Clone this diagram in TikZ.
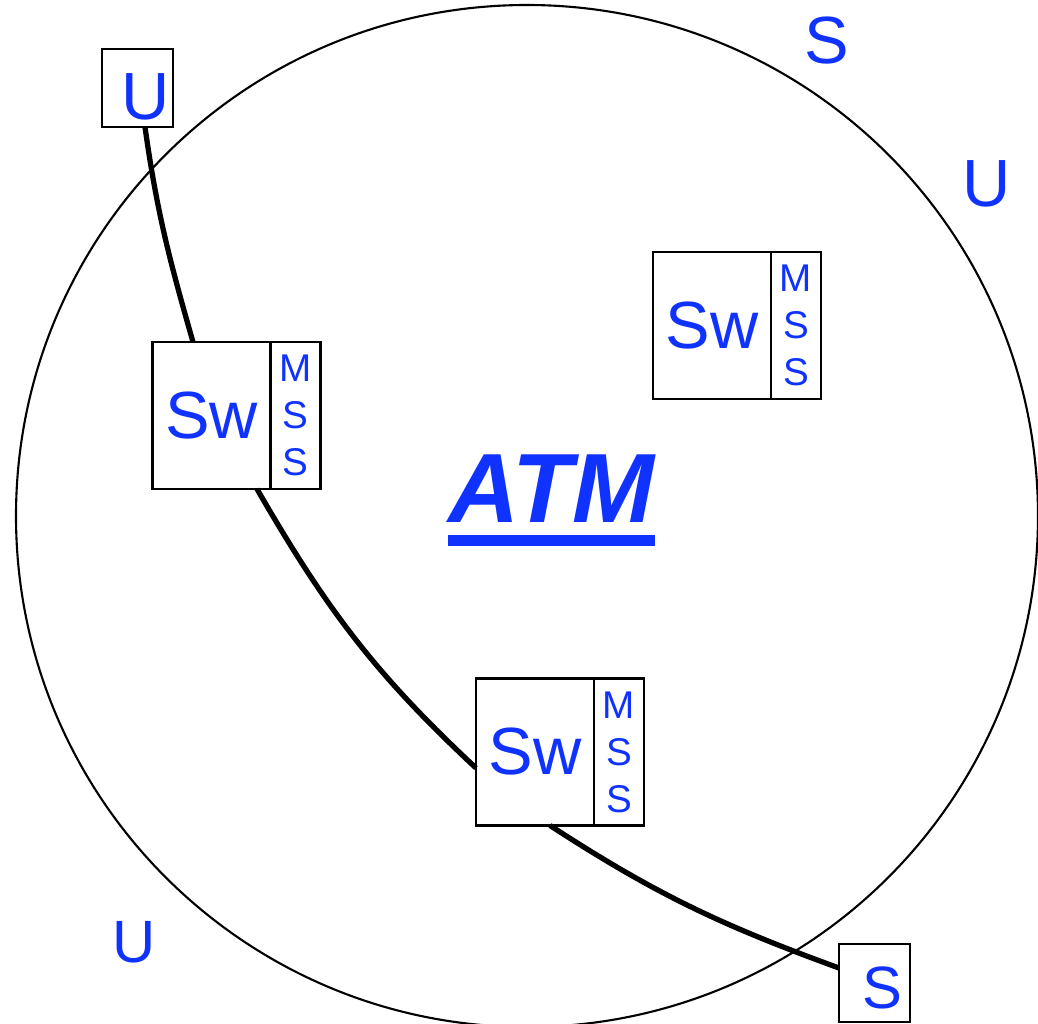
\documentclass[tikz,border=0pt]{standalone}
\usepackage{fontspec}
\setmainfont{Liberation Sans}
\usetikzlibrary{positioning}
\definecolor{bleu}{RGB}{15,50,255}

\begin{document}
\begin{tikzpicture}[
  boite/.style={draw, semithick, inner sep=0pt, outer sep=0pt, minimum width=1.18cm, minimum height=1.47cm, text=bleu, font=\fontsize{19}{22}\selectfont},
  pile/.style={draw, semithick, inner sep=0pt, outer sep=0pt, minimum width=0.5cm, minimum height=1.47cm, align=center, text=bleu, font=\fontsize{11}{13.4}\selectfont},
  term/.style={draw, semithick, inner sep=0pt, outer sep=0pt, minimum width=0.71cm, minimum height=0.78cm},
  lettre/.style={text=bleu, inner sep=0pt, font=\fontsize{19}{22}\selectfont},
  lien/.style={line width=1.5pt}
]

% Cadre
\useasboundingbox (0,0) rectangle (10.38,10.24);

% Cercle
\draw[semithick] (5.27,5.08) circle (5.11);

% Commutateurs
\node[boite] (sw1) at (2.115,6.085) {Sw};
\node[pile, right=0pt of sw1] (ms1) {M\\S\\S};
\node[boite] (sw2) at (7.12,6.985) {Sw};
\node[pile, right=0pt of sw2] (ms2) {M\\S\\S};
\node[boite] (sw3) at (5.35,2.72) {Sw};
\node[pile, right=0pt of sw3] (ms3) {M\\S\\S};

% Extremites
\node[term] (u) at (1.375,9.36) {};
\node[lettre] (lu) at ([xshift=0.085cm,yshift=-0.09cm]u.center) {U};
\node[term] (s) at (8.745,0.41) {};
\node[lettre, font=\fontsize{17}{20}\selectfont] (ls) at ([xshift=0.075cm,yshift=-0.05cm]s.center) {S};

% Lettres autour
\node[lettre] (s2) at (8.27,9.83) {S};
\node[lettre] (u2) at (9.87,8.40) {U};
\node[lettre, font=\fontsize{17}{20}\selectfont] (u3) at (1.34,0.82) {U};

% ATM
\node[text=bleu, inner sep=0pt, anchor=base, font=\fontsize{28}{33}\selectfont\bfseries\itshape] (atm) at (5.515,5.01) {ATM};
\fill[bleu] ([yshift=-0.12cm]atm.base west) rectangle ([yshift=-0.23cm]atm.base east);

% Liaison
\draw[lien] ([xshift=0.075cm]u.south) to[out=-82, in=106] ([xshift=-0.185cm]sw1.north);
\draw[lien] ([xshift=0.455cm]sw1.south) to[out=-60, in=137] ([yshift=-0.16cm]sw3.west);
\draw[lien] ([xshift=0.15cm]sw3.south) to[out=-33, in=160] ([yshift=0.15cm]s.west);

\end{tikzpicture}
\end{document}
